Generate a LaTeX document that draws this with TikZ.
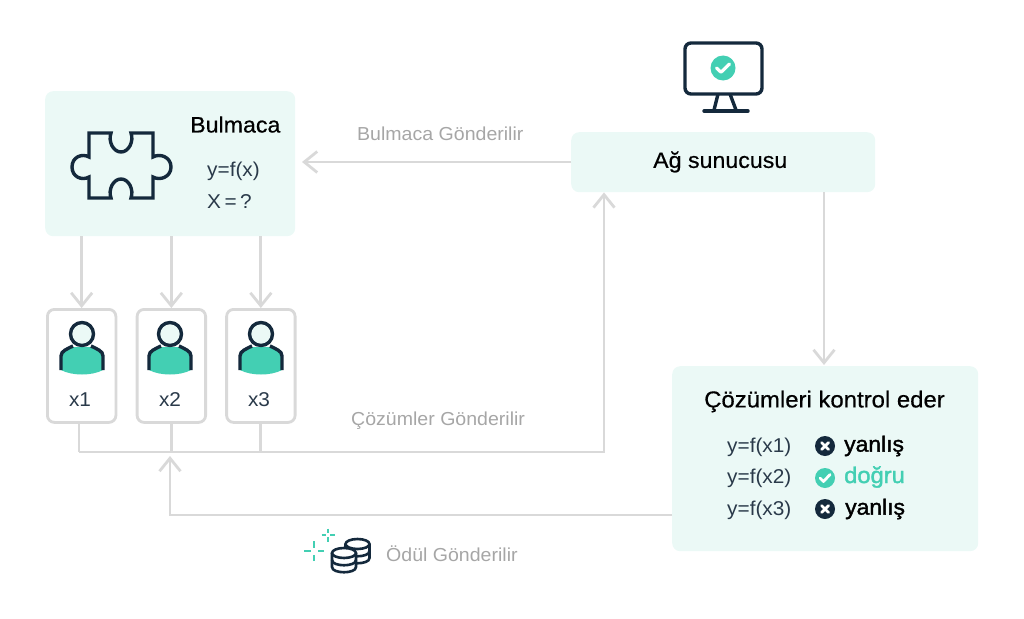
\documentclass[tikz,border=0pt]{standalone}
\usepackage{fontspec}
\setmainfont[FakeStretch=1.04]{Liberation Sans}
\newfontfamily\medf[FakeStretch=1.04,FakeBold=0.5]{Liberation Sans}
\newfontfamily\semif[FakeStretch=1.04,FakeBold=1.6]{Liberation Sans}
\usetikzlibrary{arrows.meta}
\definecolor{mint}{HTML}{EBF9F6}
\definecolor{teal}{HTML}{43CFB3}
\definecolor{navy}{HTML}{14293C}
\definecolor{linegray}{HTML}{D9D9D9}
\definecolor{labgray}{HTML}{A6A6A6}
\definecolor{txt}{HTML}{2A3A4A}
\tikzset{
  x=1pt,y=-1pt,
  card/.style={fill=mint,rounded corners=8pt,inner sep=0pt,anchor=north west},
  ubox/.style={draw=linegray,line width=2.8pt,fill=white,rounded corners=7pt,minimum width=68.5pt,minimum height=113pt,inner sep=0pt,anchor=north west},
  conn/.style={draw=linegray,line width=2.8pt},
  arr/.style={conn,-{Straight Barb[length=13pt,width=21pt,line width=2.8pt]}},
  lab/.style={text=labgray,font=\fontsize{18.8}{22}\selectfont,inner sep=0pt,anchor=west},
  head/.style={text=black,font=\fontsize{22.3}{26}\medf,inner sep=0pt,anchor=west},
  eq/.style={text=txt,font=\fontsize{20}{24}\selectfont,inner sep=0pt,anchor=west},
  verdict/.style={font=\fontsize{22}{26}\semif,inner sep=0pt,anchor=west},
  badge/.style={circle,inner sep=0pt,minimum size=20pt},
  icon/.style={draw=navy,line width=3.4pt,line join=miter},
  person/.pic={
    \fill[teal] (-21,36) -- (-21,22) .. controls (-21,17) and (-15,15) .. (-9,13) -- (9,13) .. controls (15,15) and (21,17) .. (21,22) -- (21,36) .. controls (10,42) and (-10,42) .. (-21,36) -- cycle;
    \draw[icon,line cap=butt] (-21,36) -- (-21,22) .. controls (-21,17) and (-15,15) .. (-9,12);
    \draw[icon,line cap=butt] (21,36) -- (21,22) .. controls (21,17) and (15,15) .. (9,12);
    \draw[icon,fill=mint] (0,0) circle[radius=11.5];
  },
  tick/.pic={\draw[white,line width=2.8pt,line cap=round,line join=round] (-5,0) -- (-1.5,3.5) -- (5,-3.5);},
  bigtick/.pic={\draw[white,line width=3.2pt,line cap=round,line join=round] (-6.5,0) -- (-2,4.2) -- (6.5,-4);},
  cross/.pic={\draw[white,line width=2.8pt,line cap=round] (-3.5,-3.5) -- (3.5,3.5) (-3.5,3.5) -- (3.5,-3.5);},
  coin/.pic={
    \draw[draw=navy,line width=2.6pt,fill=white] (-12,0) -- (-12,14) .. controls (-12,21) and (12,21) .. (12,14) -- (12,0);
    \draw[draw=navy,line width=2.6pt] (-12,7) .. controls (-12,14) and (12,14) .. (12,7);
    \draw[draw=navy,line width=2.6pt,fill=white] (0,0) ellipse[x radius=12,y radius=5];
  },
  spark/.pic={\draw[teal,line width=1.6pt] (-1,0) -- (-0.35,0) (0,-1) -- (0,-0.35) (1,0) -- (0.35,0) (0,1) -- (0,0.35);}
}
\begin{document}
\begin{tikzpicture}
\useasboundingbox (0,0) rectangle (1024,618);
% cards
\node[card,minimum width=250pt,minimum height=145pt] (bul) at (45,91) {};
\node[card,minimum width=304pt,minimum height=60pt] (srv) at (571,132) {};
\node[card,minimum width=306pt,minimum height=185pt] (chk) at (672,366) {};
\node[ubox] (u1) at (46,308) {};
\node[ubox] (u2) at (135.7,308) {};
\node[ubox] (u3) at (225.2,308) {};
% helper coordinates
\coordinate (bus) at (79,452);
\coordinate (busend) at (604,452);
\coordinate (rw) at (170,515);
\coordinate (rwtip) at (170,456);
\coordinate (bulin) at (302,162);
% connectors
\draw[arr] (srv.west |- bulin) -- (bulin);
\draw[arr] (u1.north |- bul.south) -- (u1.north);
\draw[arr] (u2.north |- bul.south) -- (u2.north);
\draw[arr] (u3.north |- bul.south) -- (u3.north);
\draw[arr] (824,192) -- (824,365);
\draw[conn] (bus |- u1.south) -- (bus);
\draw[conn] (u2.south) -- (u2.south |- bus);
\draw[conn] (u3.south) -- (u3.south |- bus);
\draw[arr] (bus) -- (busend) -- (busend |- srv.south);
\draw[arr] (chk.west |- rw) -- (rw) -- (rwtip);
% texts
\node[head] (tbul) at (190,124.5) {Bulmaca};
\node[eq] (e1) at (207,171) {y=f(x)};
\node[eq] (e2) at (207,202) {\spaceskip=3.5pt X = ?};
\node[head] (tsrv) at (653,162) {Ağ sunucusu};
\node[head,font=\fontsize{23}{27}\medf] (tchk) at (704,401.5) {Çözümleri kontrol eder};
\node[lab] (l1) at (357,134) {Bulmaca Gönderilir};
\node[lab] (l2) at (351,421) {Çözümler Gönderilir};
\node[lab] (l3) at (386,554) {Ödül Gönderilir};
\node[eq,anchor=center] (x1) at (80,399.5) {x1};
\node[eq,anchor=center] (x2) at (170,399.5) {x2};
\node[eq,anchor=center] (x3) at (259,399.5) {x3};
\node[eq] (r1) at (727,447) {y=f(x1)};
\node[eq] (r2) at (727,478) {y=f(x2)};
\node[eq] (r3) at (727,510) {y=f(x3)};
\node[badge,fill=navy] (b1) at (825,446) {};
\node[badge,fill=teal] (b2) at (825,478) {};
\node[badge,fill=navy] (b3) at (825,509) {};
\pic at (b1) {cross};
\pic at (b2) {tick};
\pic at (b3) {cross};
\node[verdict,text=black] (v1) at (844,446) {yanlış};
\node[verdict,text=teal,font=\fontsize{22.8}{26}\semif] (v2) at (844,477) {doğru};
\node[verdict,text=black] (v3) at (845,509) {yanlış};
% puzzle
\draw[icon] (89,133) -- (111,133) .. controls (108,141) and (113,152) .. (121,152) .. controls (129,152) and (134,141) .. (131,133) -- (153,133) -- (153,157) .. controls (160,153) and (171,157) .. (171,167) .. controls (171,177) and (160,181) .. (153,177) -- (153,198) -- (131,198) .. controls (134,190) and (129,179) .. (121,179) .. controls (113,179) and (108,190) .. (111,198) -- (89,198) -- (89,177) .. controls (82,181) and (72,177) .. (72,167) .. controls (72,157) and (82,153) .. (89,157) -- cycle;
% people
\pic at (82,334) {person};
\pic at (170,334) {person};
\pic at (261,334) {person};
% monitor
\draw[icon,rounded corners=6pt,fill=white] (685,43) rectangle (762,94);
\node[badge,fill=teal,minimum size=25pt] (mon) at (723,68) {};
\pic at (mon) {bigtick};
\draw[icon] (718,94) -- (714,110) (730,94) -- (736,110);
\draw[icon,line cap=round] (704,111) -- (748,111);
% coins
\pic at (357.5,544) {coin};
\pic at (344,553) {coin};
% sparkles
\pic[scale=10] at (314,551) {spark};
\pic[scale=6.5] at (328,535) {spark};
\end{tikzpicture}
\end{document}
